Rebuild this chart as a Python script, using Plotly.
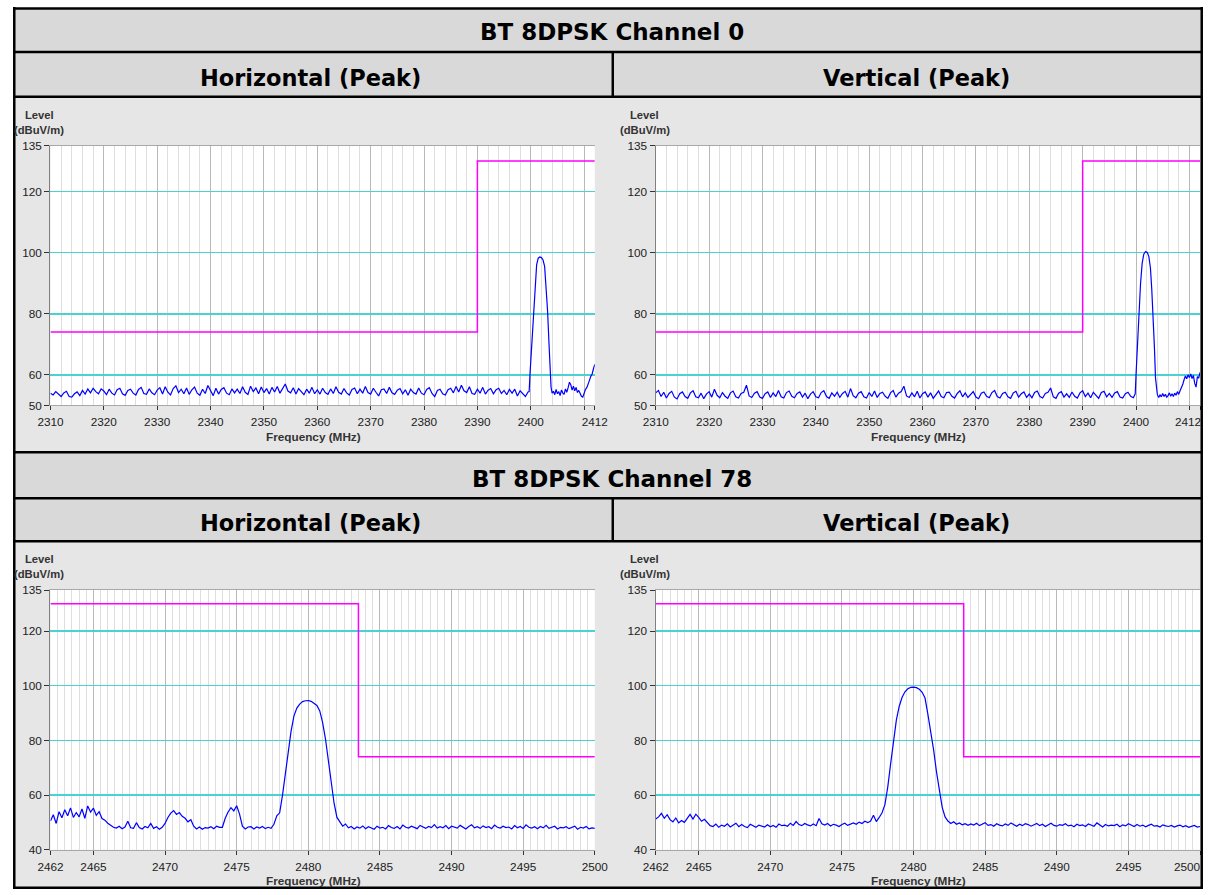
import plotly.graph_objects as go

W, H = 1217, 895
# measured photo transform of this environment: image = A * page + B  (compensated below)
AX, BX, AY, BY = 0.979, 12.5, 0.987, 6.0
FONT = "Liberation Sans, Arial, Helvetica, sans-serif"
TITLE_FONT = "DejaVu Sans, Liberation Sans, Arial, sans-serif"

# ---------------- data: BT 8DPSK Channel 0 (2310-2412 MHz) ----------------
ch0_floor_start = 2310.0
ch0_floor_step = 0.5
h0_floor = [
    54.0, 53.4, 54.5, 53.6, 52.9, 54.1, 54.6, 52.9, 52.7, 53.8,
    54.4, 53.2, 54.9, 53.7, 55.4, 54.1, 55.6, 54.5, 53.8, 55.4,
    54.7, 53.5, 55.3, 54.0, 53.4, 55.1, 55.6, 53.8, 53.3, 54.9,
    55.3, 54.0, 53.4, 55.2, 55.9, 53.9, 53.6, 55.4, 54.1, 53.5,
    55.0, 55.8, 53.7, 56.1, 54.3, 53.4, 55.5, 56.4, 54.2, 55.3,
    53.8, 55.7, 53.6, 55.1, 56.0, 54.0, 53.3, 55.3, 53.9, 56.5,
    54.9, 53.2, 55.6, 53.7, 55.2, 55.8, 54.0, 53.5, 55.4, 54.1,
    55.3, 53.9, 56.1, 54.3, 53.6, 56.3, 54.5, 55.7, 53.8, 56.0,
    54.2, 55.5, 53.7, 55.9, 54.4, 56.2, 54.0, 55.4, 57.0, 54.7,
    54.1, 55.8, 53.7, 55.5, 54.3, 53.5, 55.3, 54.0, 55.9, 53.8,
    55.1, 53.7, 55.6, 54.2, 53.6, 55.4, 53.9, 56.1, 54.3, 53.7,
    55.5, 54.1, 53.4, 55.2, 55.7, 53.8, 55.3, 54.0, 56.2, 54.2,
    53.7, 55.6, 54.3, 53.1, 55.1, 55.4, 53.9, 55.9, 54.1, 53.6,
    55.0, 55.5, 53.8, 55.1, 53.3, 55.3, 54.2, 53.7, 55.7, 54.0,
    53.5, 55.2, 55.8, 53.9, 52.9, 54.9, 55.3, 53.8, 53.4, 55.1,
    55.6, 54.1, 56.2, 54.4, 56.6, 54.8, 54.2, 56.1, 53.9, 53.6,
    55.3, 54.0, 55.9, 53.7, 55.0, 55.5, 53.8, 55.1, 55.6, 53.9,
    54.9, 53.5, 55.2, 54.0, 55.3, 53.1, 54.8, 53.7, 52.9, 54.4,
]
v0_floor = [
    54.1, 54.9, 52.9, 54.3, 52.4, 53.9, 54.6, 52.7, 52.1, 53.8,
    54.4, 52.9, 52.3, 54.1, 54.8, 52.8, 52.5, 54.0, 52.2, 53.7,
    54.5, 52.7, 55.3, 53.3, 52.5, 54.2, 53.0, 52.3, 54.1, 54.7,
    52.8, 52.4, 53.9, 54.3, 56.6, 53.1, 52.6, 54.0, 54.5, 52.7,
    52.3, 53.8, 54.4, 52.6, 54.1, 52.9, 54.9, 52.8, 52.4, 54.2,
    54.7, 53.0, 52.5, 53.9, 54.4, 52.7, 54.0, 52.2, 53.7, 54.5,
    52.8, 52.5, 54.2, 54.8, 52.9, 52.3, 54.1, 53.0, 54.3, 52.6,
    53.9, 54.6, 52.7, 55.5, 53.2, 52.5, 54.0, 54.5, 52.8, 52.4,
    54.2, 52.9, 54.7, 52.6, 53.9, 54.3, 53.0, 52.3, 54.1, 54.9,
    52.7, 54.0, 54.5, 56.3, 53.1, 52.6, 54.1, 52.8, 54.6, 52.4,
    53.8, 54.4, 52.7, 54.1, 52.3, 53.7, 54.7, 52.9, 52.5, 54.2,
    54.3, 53.0, 52.4, 53.9, 54.8, 52.8, 54.1, 52.6, 53.7, 54.5,
    52.7, 52.2, 54.0, 54.4, 53.0, 52.5, 54.2, 54.9, 52.9, 52.4,
    53.9, 54.3, 52.8, 52.3, 54.1, 54.6, 52.7, 53.8, 54.4, 52.6,
    53.7, 52.5, 54.2, 54.7, 52.9, 52.4, 53.9, 54.3, 55.7, 52.8,
    52.3, 54.0, 54.5, 52.7, 53.8, 52.6, 54.4, 53.0, 52.4, 54.1,
    54.8, 52.9, 54.0, 52.5, 54.3, 53.1, 52.3, 54.2, 54.6, 52.8,
    53.9, 52.6, 54.1, 54.5, 52.7, 52.4, 53.8, 54.3, 53.0, 52.5,
]
h0_peak_f = [2399.7, 2399.85, 2400.1, 2400.5, 2400.8, 2401.1, 2401.4, 2401.7, 2402.0,
             2402.3, 2402.6, 2402.9, 2403.15, 2403.4, 2403.6, 2403.8, 2404.0]
h0_peak = [54.5, 60.0, 68.0, 80.0, 90.0, 96.0, 98.2, 98.6, 98.4,
           97.6, 95.5, 89.0, 81.0, 71.0, 61.0, 56.0, 54.0]
v0_peak_f = [2399.85, 2400.0, 2400.2, 2400.55, 2400.85, 2401.15, 2401.45, 2401.8, 2402.1,
             2402.4, 2402.7, 2402.95, 2403.2, 2403.45, 2403.65, 2403.85, 2404.0]
v0_peak = [53.8, 60.0, 68.0, 80.0, 90.0, 96.5, 99.5, 100.4, 100.1,
           98.8, 95.0, 88.0, 80.0, 69.0, 59.0, 54.5, 53.5]
ch0_tail_start = 2404.25
ch0_tail_step = 0.25
h0_tail = [54.6, 53.5, 55.2, 53.8, 54.5, 53.2, 55.0, 54.1, 53.6, 55.4, 54.3, 55.8,
           57.6, 56.8, 55.0, 56.3, 54.8, 55.9, 54.2, 54.9, 53.6, 53.0, 52.7, 54.0,
           55.2, 55.8, 57.4, 58.2, 59.5, 60.3, 62.0, 63.4]
v0_tail = [52.6, 53.4, 52.8, 53.9, 52.9, 53.6, 52.7, 53.2, 54.1, 53.0, 53.8, 52.9,
           54.0, 53.3, 54.5, 53.6, 54.8, 55.6, 56.8, 58.4, 59.6, 58.7, 60.0, 59.1,
           60.3, 58.8, 59.8, 57.2, 56.0, 59.4, 59.0, 60.8]
ch0_limit_f = [2310, 2390, 2390, 2412]
ch0_limit = [74, 74, 130, 130]
ch0_ticks = [2310, 2320, 2330, 2340, 2350, 2360, 2370, 2380, 2390, 2400, 2410, 2412]
ch0_ticktext = ["2310", "2320", "2330", "2340", "2350", "2360", "2370", "2380", "2390", "2400", "", "2412"]
ch0_yticks = [50, 60, 80, 100, 120, 135]

# ---------------- data: BT 8DPSK Channel 78 (2462-2500 MHz) ----------------
ch78_start = 2462.0
ch78_step = 0.2
h78 = [
    50.5, 52.8, 49.6, 53.9, 51.7, 54.6, 52.4, 55.3, 51.8, 53.6,
    52.0, 54.9, 51.5, 56.0, 53.8, 55.2, 52.6, 53.9, 51.4, 50.8,
    49.7, 48.9, 48.2, 47.9, 48.6, 47.7, 48.3, 50.4, 48.0, 47.8,
    49.9, 48.1, 47.6, 48.5, 48.0, 49.6, 47.8, 48.4, 47.5, 48.2,
    49.6, 51.8, 53.4, 54.3, 52.9, 53.6, 52.2, 51.5, 50.2, 51.0,
    48.6, 47.6, 48.3, 47.5, 48.1, 47.9, 48.4, 47.7, 48.6, 48.2,
    48.2, 51.5, 53.8, 55.4, 54.2, 56.1, 53.0, 48.6, 47.6, 48.3,
    48.4, 47.6, 48.3, 47.9, 48.5, 47.7, 48.2, 47.8, 49.3, 52.4,
    53.5, 60.0, 68.0, 76.5, 83.5, 89.0, 91.8, 93.3, 94.2, 94.5,
    94.6, 94.3, 93.7, 92.8, 90.8, 86.5, 80.5, 72.5, 64.0, 57.0,
    51.8, 50.2, 48.6, 49.4, 48.0, 48.5, 47.6, 48.3, 47.9, 48.7,
    47.7, 48.4, 48.0, 47.5, 48.6, 47.9, 48.2, 47.6, 48.8, 48.1,
    47.8, 48.5, 47.6, 49.0, 48.2, 47.9, 48.6, 48.0, 47.7, 48.9,
    48.3, 47.8, 48.5, 48.1, 49.2, 47.9, 48.4, 48.0, 48.8, 47.7,
    48.6, 48.2, 47.9, 48.9, 48.3, 47.6, 48.5, 49.1, 48.0, 48.4,
    47.8, 48.7, 48.1, 48.4, 47.7, 49.0, 48.2, 47.9, 48.6, 48.1,
    48.3, 47.6, 48.8, 48.0, 48.5, 47.8, 49.1, 48.2, 47.9, 48.4,
    47.7, 48.5, 48.0, 48.9, 47.8, 48.3, 48.6, 47.6, 48.2, 48.0,
    48.4, 47.7, 48.1, 48.6, 47.5, 48.2, 47.9, 48.5, 47.6, 48.0,
    47.8,
]
v78 = [
    51.2, 52.0, 53.3, 51.5, 52.8, 51.0, 50.2, 51.6, 49.8, 50.7,
    50.0, 51.3, 52.9, 51.2, 53.0, 51.8, 50.4, 51.1, 49.9, 48.8,
    48.5, 49.4, 48.2, 49.0, 48.6, 49.5, 48.3, 48.9, 49.7, 48.4,
    49.2, 48.5, 48.1, 49.3, 48.7, 48.2, 49.0, 48.6, 48.3, 49.1,
    48.4, 48.9, 48.2, 49.4, 48.8, 49.0, 48.6, 49.7, 48.9, 50.3,
    49.2, 48.8, 49.6, 49.1, 48.7, 49.4, 48.8, 51.4, 49.5, 49.0,
    49.6, 48.7, 49.3, 49.0, 48.5, 49.2, 49.7, 48.9, 49.4, 49.8,
    49.3, 50.1, 49.6, 50.4, 49.9, 50.5, 52.6, 50.3, 51.8, 53.5,
    56.5, 63.0, 71.5, 80.0, 87.5, 92.5, 95.8, 97.8, 98.9, 99.4,
    99.5, 99.3, 98.7, 97.6, 95.5, 89.5, 83.5, 76.5, 68.5, 61.5,
    55.5, 52.0, 50.5, 49.6, 50.2, 49.3, 49.8, 49.1, 49.5, 48.9,
    49.4, 49.0, 49.7, 48.8, 49.3, 49.9, 48.9, 49.2, 48.6, 49.5,
    49.0, 48.7, 49.4, 48.9, 49.8, 49.1, 48.6, 49.3, 48.8, 49.5,
    49.2, 48.6, 49.0, 49.6, 48.8, 49.3, 48.5, 49.1, 49.7, 48.9,
    48.6, 49.2, 48.9, 49.5, 48.7, 49.0, 48.4, 49.3, 48.8, 49.1,
    48.5, 49.4, 49.0, 48.6, 49.8, 48.9, 48.3, 49.2, 48.7, 49.0,
    48.8, 49.3, 48.4, 49.1, 48.7, 49.5, 48.9, 48.5, 49.2, 48.6,
    49.0, 48.4, 48.9, 49.3, 48.6, 48.8, 48.3, 49.1, 48.7, 48.5,
    48.9, 48.3, 48.7, 49.0, 48.4, 48.8, 48.2, 48.6, 48.9, 48.3,
    48.5,
]
ch78_limit_f = [2462, 2483.5, 2483.5, 2500]
ch78_limit = [130, 130, 74, 74]
ch78_ticks = [2462, 2465, 2470, 2475, 2480, 2485, 2490, 2495, 2500]
ch78_ticktext = [str(t) for t in ch78_ticks]
ch78_yticks = [40, 60, 80, 100, 120, 135]

titles = ["BT 8DPSK Channel 0", "BT 8DPSK Channel 78"]
pol_titles = ["Horizontal (Peak)", "Vertical (Peak)"]

# ---------------- assemble series ----------------
def grid(start, step, n):
    return [round(start + step * i, 4) for i in range(n)]

h0_f = grid(ch0_floor_start, ch0_floor_step, len(h0_floor)) + h0_peak_f + grid(ch0_tail_start, ch0_tail_step, len(h0_tail))
h0_y = h0_floor + h0_peak + h0_tail
v0_f = grid(ch0_floor_start, ch0_floor_step, len(v0_floor)) + v0_peak_f + grid(ch0_tail_start, ch0_tail_step, len(v0_tail))
v0_y = v0_floor + v0_peak + v0_tail
f78 = grid(ch78_start, ch78_step, len(h78))

ch0_minor = [v for v in range(2312, 2412, 2) if v % 10 != 0]
ch78_minor = [ch78_start + 0.5 * k for k in range(1, 76) if (ch78_start + 0.5 * k) % 5 != 0]

# ---------------- layout helpers: target image pixel -> paper fraction ----------------
def px(X):
    return min(max(((X - BX) / AX) / W, 0.0), 1.0)

def py(Y):
    return min(max(1 - ((Y - BY) / AY) / H, 0.0), 1.0)

def fs(v):
    return round(v / AX, 2)

fig = go.Figure()

# (suffix, x px, y px (top,bottom), xrange, yrange, freq, level, limit f, limit, ticks, ticktext, minor, yticks, right edge chart)
panels = [
    ("", (50, 595), (145, 405), (2310, 2412), (50, 135), h0_f, h0_y, ch0_limit_f, ch0_limit, ch0_ticks, ch0_ticktext, ch0_minor, ch0_yticks, False),
    ("2", (656, 1201), (145, 405), (2310, 2412), (50, 135), v0_f, v0_y, ch0_limit_f, ch0_limit, ch0_ticks, ch0_ticktext, ch0_minor, ch0_yticks, True),
    ("3", (50, 595), (590, 850), (2462, 2500), (40, 135), f78, h78, ch78_limit_f, ch78_limit, ch78_ticks, ch78_ticktext, ch78_minor, ch78_yticks, False),
    ("4", (656, 1201), (590, 850), (2462, 2500), (40, 135), f78, v78, ch78_limit_f, ch78_limit, ch78_ticks, ch78_ticktext, ch78_minor, ch78_yticks, True),
]

layout_axes = {}
shapes = []
annotations = []

HEAD_GRAY = "#d9d9d9"
PANEL_GRAY = "#e6e6e6"

def rect(x0, y0, x1, y1, fill, layer="below"):
    return dict(type="rect", xref="paper", yref="paper", x0=px(x0), x1=px(x1), y0=py(y1), y1=py(y0),
                fillcolor=fill, line=dict(width=0), layer=layer)

shapes.append(rect(7, 7, 1216, 96, HEAD_GRAY))
shapes.append(rect(7, 96, 1216, 452, PANEL_GRAY))
shapes.append(rect(7, 452, 1216, 541, HEAD_GRAY))
shapes.append(rect(7, 541, 1216, 895, PANEL_GRAY))

tickfont = dict(family=FONT, size=fs(11.5), color="#222")

for (sfx, xr_px, yr_px, xrng, yrng, fx, fy, lfx, lfy, tv, tt, mv, ytv, at_edge) in panels:
    xa = "x" + sfx
    ya = "y" + sfx
    fig.add_trace(go.Scatter(x=lfx, y=lfy, mode="lines", line=dict(color="#ff00ff", width=1.5),
                             xaxis=xa, yaxis=ya, hoverinfo="skip"))
    fig.add_trace(go.Scatter(x=fx, y=fy, mode="lines", line=dict(color="#0000ff", width=1.2),
                             xaxis=xa, yaxis=ya, hoverinfo="skip"))
    labels = list(tt)
    if at_edge:
        # last label would be cut by the page edge: draw it as a right-aligned text instead
        edge_label = labels[-1]
        labels[-1] = ""
        annotations.append(dict(text=edge_label, x=px(1203.5), y=py(yr_px[1] + 16.5), xref="paper", yref="paper",
                                showarrow=False, xanchor="right", yanchor="middle", font=tickfont))
    layout_axes["xaxis" + sfx] = dict(
        domain=[px(xr_px[0]), px(xr_px[1])], anchor=ya, range=list(xrng),
        tickmode="array", tickvals=tv, ticktext=labels, ticks="outside", ticklen=4, tickcolor="#333",
        ticklabelstandoff=2, tickfont=tickfont,
        showgrid=True, gridcolor="#b9b9b9", gridwidth=1,
        minor=dict(tickmode="array", tickvals=mv, showgrid=True, gridcolor="#dedede", gridwidth=1, ticks=""),
        showline=True, linecolor="#a8a8a8", linewidth=1, mirror=True, zeroline=False, fixedrange=True,
    )
    layout_axes["yaxis" + sfx] = dict(
        domain=[py(yr_px[1]), py(yr_px[0])], anchor=xa, range=list(yrng),
        tickmode="array", tickvals=ytv, ticks="outside", ticklen=5, tickcolor="#333",
        tickfont=tickfont,
        showgrid=True, gridcolor="#4ad2d2", gridwidth=1.5,
        showline=True, linecolor="#808080", linewidth=1.2, zeroline=False, fixedrange=True,
    )
    shapes.append(dict(type="rect", xref=xa + " domain", yref=ya + " domain", x0=0, x1=1, y0=0, y1=1,
                       fillcolor="white", line=dict(width=0), layer="below"))
    lx = xr_px[0] - 11
    annotations.append(dict(text="<b>Level</b>", x=px(lx), y=py(yr_px[0] - 31), xref="paper", yref="paper",
                            showarrow=False, xanchor="center", yanchor="middle",
                            font=dict(family=FONT, size=fs(11), color="#333")))
    annotations.append(dict(text="<b>(dBuV/m)</b>", x=px(lx), y=py(yr_px[0] - 16), xref="paper", yref="paper",
                            showarrow=False, xanchor="center", yanchor="middle",
                            font=dict(family=FONT, size=fs(11), color="#333")))
    annotations.append(dict(text="<b>Frequency (MHz)</b>", x=px(xr_px[0] + 263), y=py(yr_px[1] + 31),
                            xref="paper", yref="paper", showarrow=False, xanchor="center", yanchor="middle",
                            font=dict(family=FONT, size=fs(11.5), color="#333")))

for title, yc in zip(titles, [31, 479]):
    annotations.append(dict(text="<b>%s</b>" % title, x=px(612), y=py(yc), xref="paper", yref="paper",
                            showarrow=False, xanchor="center", yanchor="middle",
                            font=dict(family=TITLE_FONT, size=fs(22.5), color="black")))
for yc in [77, 523]:
    for t, xc in zip(pol_titles, [310, 917]):
        annotations.append(dict(text="<b>%s</b>" % t, x=px(xc), y=py(yc), xref="paper", yref="paper",
                                showarrow=False, xanchor="center", yanchor="middle",
                                font=dict(family=TITLE_FONT, size=fs(22), color="black")))

LW = 2.5
def hline(y):
    return dict(type="line", xref="paper", yref="paper", x0=0, x1=1, y0=py(y), y1=py(y),
                line=dict(color="black", width=LW), layer="above")

def vline_paper(xf, y0, y1):
    return dict(type="line", xref="paper", yref="paper", x0=xf, x1=xf, y0=py(y0), y1=py(y1),
                line=dict(color="black", width=LW), layer="above")

# outer frame at the page edges, inner rules at measured positions
shapes.append(dict(type="line", xref="paper", yref="paper", x0=0, x1=1, y0=1 - 1.5 / H, y1=1 - 1.5 / H,
                   line=dict(color="black", width=LW), layer="above"))
shapes.append(dict(type="line", xref="paper", yref="paper", x0=0, x1=1, y0=1.3 / H, y1=1.3 / H,
                   line=dict(color="black", width=LW), layer="above"))
shapes.append(dict(type="line", xref="paper", yref="paper", x0=1.3 / W, x1=1.3 / W, y0=0, y1=1,
                   line=dict(color="black", width=LW), layer="above"))
shapes.append(dict(type="line", xref="paper", yref="paper", x0=1 - 1.3 / W, x1=1 - 1.3 / W, y0=0, y1=1,
                   line=dict(color="black", width=LW), layer="above"))
for y in [51, 96, 452, 498, 541]:
    shapes.append(hline(y))
shapes.append(vline_paper(px(613), 51, 96))
shapes.append(vline_paper(px(613), 498, 541))

fig.update_layout(
    width=W, height=H, margin=dict(l=0, r=0, t=0, b=0), autosize=False,
    paper_bgcolor="white", plot_bgcolor="white", showlegend=False,
    shapes=shapes, annotations=annotations, font=dict(family=FONT),
    **layout_axes,
)

fig.write_html("out.html", config={"displayModeBar": False, "staticPlot": True},
               post_script="document.body.style.margin='0';")
